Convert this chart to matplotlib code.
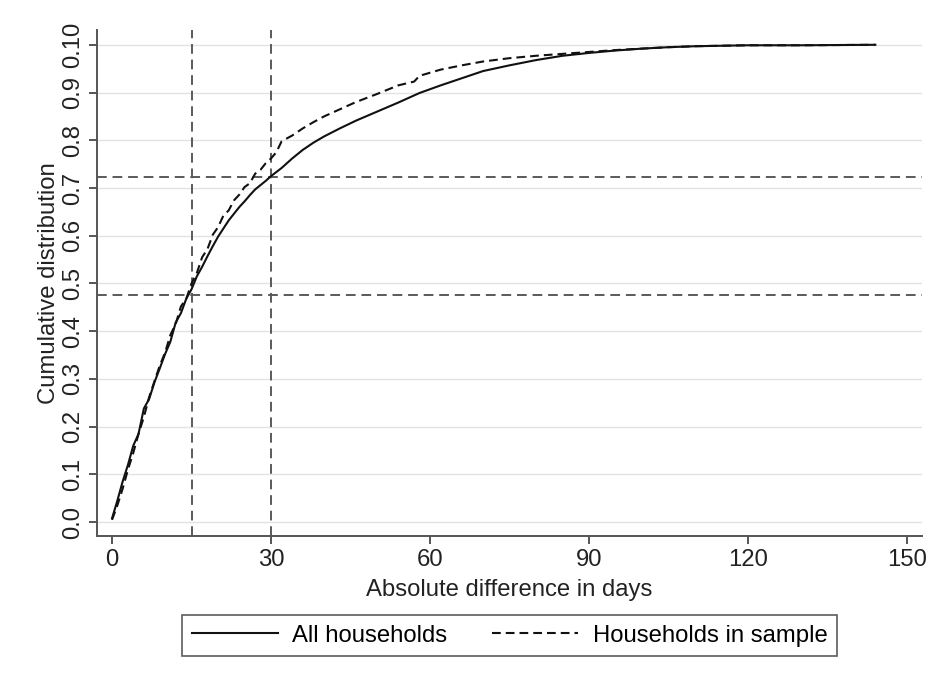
import matplotlib
matplotlib.use("Agg")
import matplotlib.pyplot as plt

plt.rcParams["font.family"] = ["Liberation Sans", "DejaVu Sans"]

# cumulative distribution of the absolute difference in days
days_all = list(range(0, 31)) + [32, 34, 36, 38, 40, 43, 46, 50, 54, 58, 62, 66,
                                  70, 75, 80, 85, 90, 95, 100, 105, 110, 115, 120, 130, 144]
cdf_all = [0.008, 0.045, 0.085, 0.12, 0.16, 0.185, 0.238, 0.258, 0.293, 0.322,
           0.352, 0.378, 0.418, 0.438, 0.468, 0.488, 0.515, 0.535, 0.557, 0.578,
           0.598, 0.615, 0.632, 0.646, 0.66, 0.672, 0.685, 0.697, 0.706, 0.715,
           0.725, 0.742, 0.762, 0.78, 0.795, 0.808, 0.825, 0.841, 0.86, 0.879,
           0.899, 0.915, 0.93, 0.945, 0.957, 0.968, 0.977, 0.983, 0.988, 0.992,
           0.995, 0.997, 0.998, 0.999, 0.999, 1.0]

days_sample = list(range(0, 33)) + [34, 36, 38, 40, 43, 46, 50, 54, 57, 58, 62, 66,
                                     70, 75, 80, 85, 90, 95, 100, 105, 110, 120, 130, 144]
cdf_sample = [0.005, 0.035, 0.07, 0.11, 0.145, 0.185, 0.22, 0.262, 0.295, 0.328,
              0.355, 0.392, 0.415, 0.452, 0.468, 0.5, 0.522, 0.555, 0.572, 0.602,
              0.618, 0.642, 0.653, 0.674, 0.686, 0.702, 0.71, 0.73, 0.738, 0.752,
              0.762, 0.775, 0.798, 0.81, 0.825, 0.838, 0.85, 0.865, 0.88, 0.897,
              0.915, 0.923, 0.935, 0.948, 0.957, 0.965, 0.972, 0.977, 0.981, 0.985,
              0.989, 0.992, 0.995, 0.997, 0.999, 0.999, 1.0]

ref_days = [15, 30]
ref_shares = [0.476, 0.723]

x_ticks = [0, 30, 60, 90, 120, 150]
y_ticks = [0.0, 0.1, 0.2, 0.3, 0.4, 0.5, 0.6, 0.7, 0.8, 0.9, 1.0]
y_labels = ["0.0", "0.1", "0.2", "0.3", "0.4", "0.5", "0.6", "0.7", "0.8", "0.9", "0.10"]

fs = 17.2

fig = plt.figure(figsize=(9.43, 6.88), dpi=100)
ax = fig.add_axes([0.1029, 0.2209, 0.8748, 0.7355])

for y in y_ticks:
    ax.axhline(y, color="#e3e3e3", lw=1.0, zorder=0)

for d in ref_days:
    ax.axvline(d, color="#5a5a5a", lw=1.4, dashes=(5, 3), zorder=1)
for s in ref_shares:
    ax.axhline(s, color="#5a5a5a", lw=1.4, dashes=(5, 3), zorder=1)

ax.plot(days_all, cdf_all, color="#111111", lw=1.5, label="All households", zorder=3)
ax.plot(days_sample, cdf_sample, color="#111111", lw=1.5, dashes=(4.2, 2.4),
        label="Households in sample", zorder=3)

ax.set_xlim(-2.83, 152.8)
ax.set_ylim(-0.029, 1.031)

ax.set_xticks(x_ticks)
ax.set_yticks(y_ticks)
ax.set_yticklabels(y_labels, rotation=90, va="center")

for side in ["top", "right"]:
    ax.spines[side].set_visible(False)
for side in ["left", "bottom"]:
    ax.spines[side].set_color("#555555")
    ax.spines[side].set_linewidth(1.4)

ax.tick_params(axis="both", colors="#555555", length=6, width=1.4, labelcolor="#222222")
ax.tick_params(axis="x", labelsize=fs, pad=3)
ax.tick_params(axis="y", labelsize=fs, pad=3)

ax.set_xlabel("Absolute difference in days", fontsize=fs, color="#222222", labelpad=6)
ax.set_ylabel("Cumulative distribution", fontsize=fs, color="#222222", labelpad=2)

leg = fig.legend(loc="center", bbox_to_anchor=(0.5403, 0.0763), ncol=2,
                 fontsize=fs, frameon=True, fancybox=False, handlelength=3.6,
                 handletextpad=0.6, columnspacing=1.9, borderpad=0.4,
                 borderaxespad=0)
leg.get_frame().set_edgecolor("#333333")
leg.get_frame().set_linewidth(1.2)

fig.savefig("out.png", dpi=100, facecolor="white")
